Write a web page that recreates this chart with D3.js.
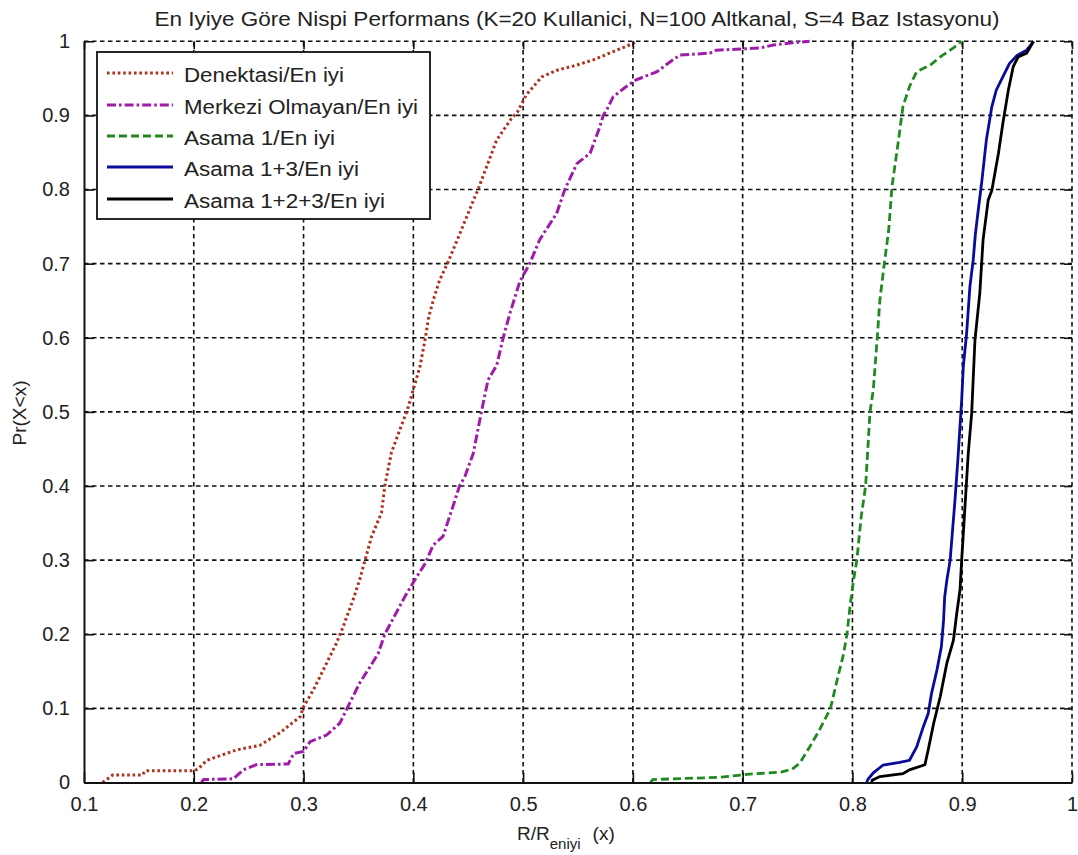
<!DOCTYPE html>
<html>
<head>
<meta charset="utf-8">
<script src="https://cdn.jsdelivr.net/npm/d3@7"></script>
<style>
  body { margin: 0; background: #fff; }
  svg text { font-family: "Liberation Sans", Arial, sans-serif; fill: #222; }
</style>
</head>
<body>
<svg id="chart" width="1078" height="855"></svg>
<script>
// Empirical CDF samples [x, Pr(X<x)] for each scheme
const denektasi = [[0.117,0],[0.126,0.010],[0.153,0.010],[0.156,0.016],[0.201,0.016],[0.205,0.020],[0.212,0.030],[0.239,0.044],[0.260,0.050],[0.2785,0.067],[0.297,0.089],[0.300,0.102],[0.309,0.125],[0.318,0.152],[0.330,0.188],[0.336,0.210],[0.345,0.246],[0.351,0.273],[0.356,0.300],[0.362,0.332],[0.371,0.364],[0.374,0.400],[0.380,0.445],[0.391,0.489],[0.394,0.500],[0.398,0.520],[0.406,0.561],[0.411,0.600],[0.414,0.628],[0.419,0.655],[0.424,0.678],[0.431,0.700],[0.4425,0.741],[0.456,0.790],[0.459,0.800],[0.465,0.824],[0.476,0.867],[0.489,0.895],[0.495,0.905],[0.503,0.928],[0.517,0.952],[0.531,0.961],[0.549,0.968],[0.564,0.975],[0.582,0.986],[0.600,0.997],[0.603,1.0]];
const merkezi = [[0.207,0],[0.209,0.004],[0.236,0.005],[0.245,0.017],[0.257,0.024],[0.286,0.025],[0.291,0.039],[0.300,0.042],[0.306,0.055],[0.321,0.064],[0.333,0.080],[0.342,0.107],[0.351,0.134],[0.3605,0.156],[0.368,0.174],[0.374,0.200],[0.383,0.225],[0.392,0.250],[0.402,0.275],[0.411,0.296],[0.418,0.320],[0.427,0.332],[0.436,0.372],[0.442,0.400],[0.447,0.413],[0.4546,0.444],[0.462,0.500],[0.468,0.543],[0.476,0.563],[0.482,0.601],[0.488,0.633],[0.497,0.676],[0.506,0.700],[0.515,0.732],[0.5306,0.768],[0.538,0.800],[0.549,0.835],[0.561,0.849],[0.570,0.885],[0.573,0.900],[0.576,0.907],[0.582,0.925],[0.594,0.939],[0.603,0.948],[0.622,0.959],[0.634,0.9725],[0.643,0.9815],[0.670,0.984],[0.676,0.988],[0.716,0.991],[0.728,0.995],[0.745,0.998],[0.761,1.0]];
const asama1 = [[0.616,0],[0.618,0.004],[0.679,0.007],[0.704,0.011],[0.735,0.014],[0.745,0.018],[0.752,0.026],[0.761,0.048],[0.770,0.071],[0.780,0.100],[0.786,0.138],[0.792,0.174],[0.795,0.200],[0.798,0.240],[0.801,0.273],[0.804,0.300],[0.808,0.359],[0.812,0.400],[0.816,0.500],[0.819,0.530],[0.8226,0.600],[0.825,0.651],[0.829,0.700],[0.833,0.745],[0.836,0.804],[0.842,0.867],[0.846,0.912],[0.852,0.939],[0.8585,0.959],[0.871,0.968],[0.880,0.979],[0.892,0.991],[0.8995,1.0]];
const asama13 = [[0.813,0],[0.814,0.004],[0.819,0.013],[0.828,0.0236],[0.843,0.027],[0.852,0.030],[0.8585,0.048],[0.8645,0.075],[0.869,0.093],[0.872,0.120],[0.877,0.152],[0.881,0.183],[0.883,0.219],[0.884,0.250],[0.886,0.273],[0.889,0.300],[0.8934,0.381],[0.896,0.435],[0.8995,0.516],[0.901,0.561],[0.904,0.606],[0.907,0.669],[0.910,0.705],[0.912,0.740],[0.914,0.765],[0.918,0.813],[0.922,0.867],[0.927,0.912],[0.931,0.934],[0.937,0.952],[0.943,0.970],[0.950,0.981],[0.9587,0.988],[0.965,1.0]];
const asama123 = [[0.8175,0],[0.818,0.003],[0.825,0.008],[0.846,0.012],[0.852,0.017],[0.866,0.024],[0.869,0.044],[0.874,0.080],[0.880,0.116],[0.886,0.161],[0.892,0.192],[0.895,0.228],[0.898,0.260],[0.8995,0.300],[0.9025,0.372],[0.9055,0.444],[0.9086,0.498],[0.9116,0.597],[0.916,0.660],[0.919,0.732],[0.9237,0.786],[0.927,0.799],[0.933,0.849],[0.937,0.889],[0.942,0.934],[0.9465,0.966],[0.951,0.979],[0.9587,0.984],[0.965,1.0]];

const seriesNames = ["Denektasi/En iyi", "Merkezi Olmayan/En iyi", "Asama 1/En iyi", "Asama 1+3/En iyi", "Asama 1+2+3/En iyi"];
const seriesData = [denektasi, merkezi, asama1, asama13, asama123];
const seriesColors = ["#b0301c", "#a01ca8", "#1f8a1f", "#0a0a9c", "#000000"];
const seriesDash = ["2.6,2.8", "9,3,2.6,3", "8,4", null, null];
const seriesWidth = [3, 3, 2.8, 2.8, 2.8];
const legendTextLen = [160, 234, 151, 175, 201];

const xTicks = [0.1, 0.2, 0.3, 0.4, 0.5, 0.6, 0.7, 0.8, 0.9, 1];
const yTicks = [0, 0.1, 0.2, 0.3, 0.4, 0.5, 0.6, 0.7, 0.8, 0.9, 1];

const titleText = "En Iyiye Göre Nispi Performans (K=20 Kullanici, N=100 Altkanal, S=4 Baz Istasyonu)";

const svg = d3.select("#chart");
const m = { left: 84, right: 1072, top: 41.3, bottom: 782.5 };

const x = d3.scaleLinear().domain([0.1, 1]).range([m.left, m.right]);
const y = d3.scaleLinear().domain([0, 1]).range([m.bottom, m.top]);

// grid
const grid = svg.append("g").attr("stroke", "#111").attr("stroke-width", 1.6).attr("stroke-dasharray", "4.5,3.5");
grid.selectAll(".gx").data(xTicks.slice(1)).join("line")
  .attr("x1", d => x(d)).attr("x2", d => x(d)).attr("y1", m.bottom).attr("y2", m.top);
grid.selectAll(".gy").data(yTicks.slice(1)).join("line")
  .attr("x1", m.left).attr("x2", m.right).attr("y1", d => y(d)).attr("y2", d => y(d));

// curves
const line = d3.line().x(d => x(d[0])).y(d => y(d[1]));
svg.append("clipPath").attr("id", "plotclip").append("rect")
  .attr("x", m.left).attr("y", m.top - 2).attr("width", m.right - m.left + 2).attr("height", m.bottom - m.top + 2);
const curves = svg.append("g").attr("clip-path", "url(#plotclip)");
seriesData.forEach((data, i) => {
  curves.append("path").datum(data)
    .attr("d", line)
    .attr("fill", "none")
    .attr("stroke", seriesColors[i])
    .attr("stroke-width", seriesWidth[i])
    .attr("stroke-dasharray", seriesDash[i]);
});

// axes (ticks point inward)
const axisB = svg.append("g").attr("transform", `translate(0,${m.bottom})`)
  .call(d3.axisBottom(x).tickValues(xTicks).tickSizeInner(-10).tickSizeOuter(0).tickPadding(14)
    .tickFormat(d => d === 1 ? "1" : d3.format(".1f")(d)));
const axisL = svg.append("g").attr("transform", `translate(${m.left},0)`)
  .call(d3.axisLeft(y).tickValues(yTicks).tickSizeInner(-10).tickSizeOuter(0).tickPadding(14)
    .tickFormat(d => (d === 0 || d === 1) ? String(d) : d3.format(".1f")(d)));
const axisT = svg.append("g").attr("transform", `translate(0,${m.top})`)
  .call(d3.axisTop(x).tickValues(xTicks).tickSizeInner(-8).tickSizeOuter(0).tickFormat(""));
const axisR = svg.append("g").attr("transform", `translate(${m.right},0)`)
  .call(d3.axisRight(y).tickValues(yTicks).tickSizeInner(-8).tickSizeOuter(0).tickFormat(""));
[axisT, axisR].forEach(a => a.select(".domain").remove());
[axisB, axisL, axisT, axisR].forEach(a => {
  a.selectAll(".tick line").attr("stroke", "#111").attr("stroke-width", 1.6);
  a.select(".domain").attr("stroke", "#111").attr("stroke-width", 2);
});
[axisB, axisL].forEach(a => a.selectAll(".tick text").attr("font-size", 20).attr("fill", "#222")
  .attr("font-family", "Liberation Sans, Arial, sans-serif"));
axisB.selectAll(".tick text").attr("dy", "0.71em");

// title
svg.append("text").attr("x", 577).attr("y", 26).attr("text-anchor", "middle")
  .attr("font-size", 20).attr("textLength", 845).attr("lengthAdjust", "spacingAndGlyphs")
  .text(titleText);

// x label with subscript
const xl = svg.append("text").attr("x", 517).attr("y", 840).attr("font-size", 19);
xl.append("tspan").text("R/R");
xl.append("tspan").attr("font-size", 15).attr("dy", 9).text("eniyi");
xl.append("tspan").attr("dy", -9).attr("dx", 12).text("(x)");

// y label
svg.append("text").attr("transform", "translate(26,413) rotate(-90)").attr("text-anchor", "middle")
  .attr("font-size", 19).text("Pr(X<x)");

// legend
const lg = svg.append("g");
lg.append("rect").attr("x", 97).attr("y", 52).attr("width", 333).attr("height", 167)
  .attr("fill", "#fff").attr("stroke", "#111").attr("stroke-width", 1.8);
const rowY = [73, 105, 136, 167, 199];
seriesNames.forEach((name, i) => {
  lg.append("line").attr("x1", 107).attr("x2", 173).attr("y1", rowY[i]).attr("y2", rowY[i])
    .attr("stroke", seriesColors[i]).attr("stroke-width", seriesWidth[i])
    .attr("stroke-dasharray", seriesDash[i]);
  lg.append("text").attr("x", 184).attr("y", rowY[i] + 9).attr("font-size", 19.5)
    .attr("textLength", legendTextLen[i]).attr("lengthAdjust", "spacingAndGlyphs").text(name);
});
</script>
</body>
</html>
